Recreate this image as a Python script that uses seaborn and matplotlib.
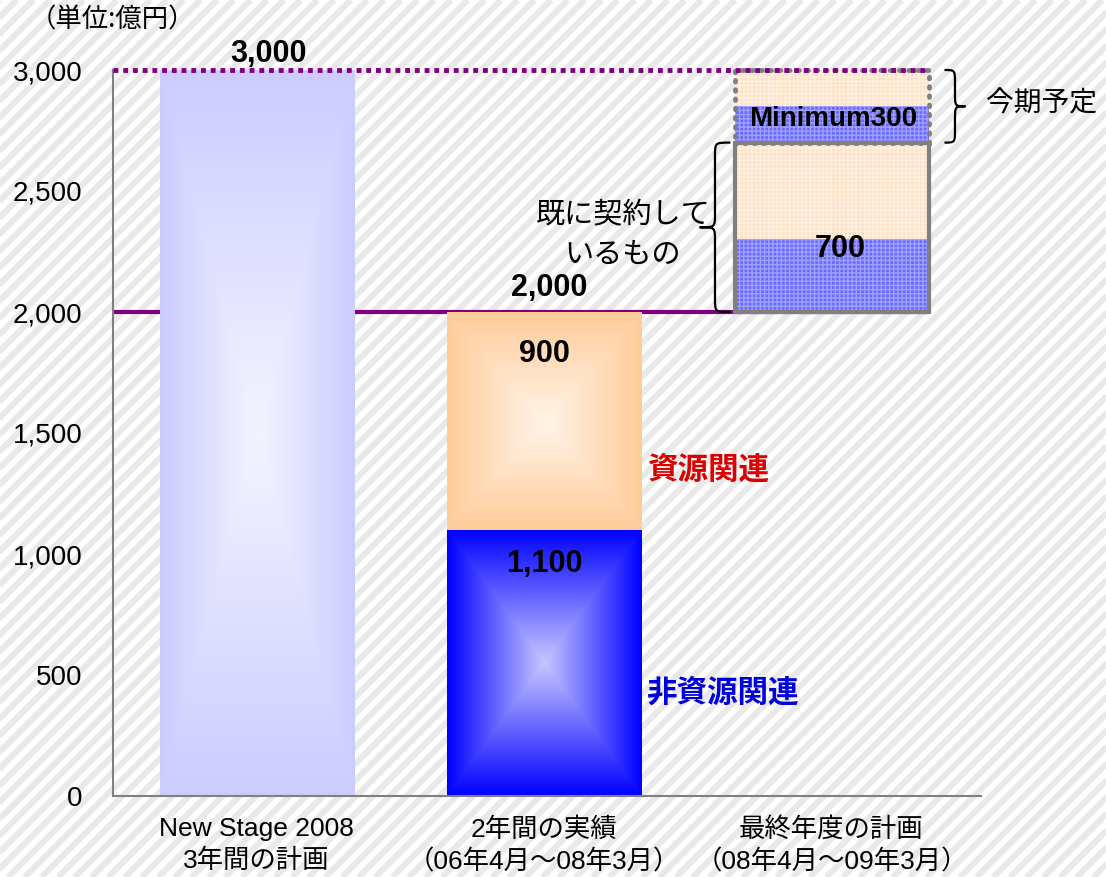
import numpy as np
import matplotlib.pyplot as plt
import seaborn as sns
from matplotlib.collections import LineCollection
from matplotlib.patches import Rectangle, PathPatch
from matplotlib.path import Path
from matplotlib.colors import to_rgb

# data (億円)
categories = ['New Stage 2008\n3年間の計画',
              '2年間の実績\n（06年4月～08年3月）',
              '最終年度の計画\n（08年4月～09年3月）']
plan_total = [3000]
actual_non_resource = [1100]
actual_resource = [900]
actual_total = [2000]
contracted_non_resource = [300]
contracted_resource = [400]
minimum_non_resource = [150]
minimum_resource = [150]
yticks = [0, 500, 1000, 1500, 2000, 2500, 3000]

sns.set_style('white')
plt.rcParams['font.family'] = ['Liberation Sans', 'Noto Sans CJK JP']
for key in ['text.color', 'axes.labelcolor', 'xtick.color', 'ytick.color']:
    plt.rcParams[key] = 'black'
JP = ['Noto Sans CJK JP', 'DejaVu Sans']

LAV, BLUE, PEACH = '#ccccff', '#0000ff', '#ffcc99'
PURPLE, GRAY = '#800080', '#808080'
W = 0.675


def box_gradient(edge, mix=0.78, n=240):
    """PowerPoint-like 'from center' rectangle gradient."""
    u = np.abs(np.linspace(-1, 1, n))
    t = np.maximum(u[None, :], u[:, None])
    e = np.array(to_rgb(edge))
    c = e + (1 - e) * mix
    return c + (e - c) * t[..., None]


def brace(ax, x_base, x_tip, y0, y1, r=55):
    xm = (x_base + x_tip) / 2
    ym = (y0 + y1) / 2
    verts = [(x_base, y0), (xm, y0), (xm, y0), (xm, y0 + r),
             (xm, ym - r), (xm, ym), (xm, ym), (x_tip, ym),
             (xm, ym), (xm, ym), (xm, ym + r),
             (xm, y1 - r), (xm, y1), (xm, y1), (x_base, y1)]
    codes = [Path.MOVETO, Path.CURVE4, Path.CURVE4, Path.CURVE4,
             Path.LINETO, Path.CURVE4, Path.CURVE4, Path.CURVE4,
             Path.CURVE4, Path.CURVE4, Path.CURVE4,
             Path.LINETO, Path.CURVE4, Path.CURVE4, Path.CURVE4]
    ax.add_patch(PathPatch(Path(verts, codes), fill=False, ec='black',
                           lw=1.6, clip_on=False, zorder=6))


fig = plt.figure(figsize=(11.06, 8.77), dpi=100)
fig.patch.set_facecolor('white')

# striped backdrop
offs = np.arange(-877, 1106, 16.7) / 1106
segs = [[(o, 0), (o + 877 / 1106, 1)] for o in offs]
fig.add_artist(LineCollection(segs, colors='#e9e9e9', linewidths=4.4,
                              transform=fig.transFigure, zorder=-5))

ax = fig.add_axes([113 / 1106, 1 - 796 / 877, (981 - 113) / 1106, (796 - 70) / 877])
ax.set_facecolor('none')

# bars
sns.barplot(x=categories[:2], y=plan_total + actual_total, order=categories,
            hue=categories[:2], palette=[LAV, PEACH], legend=False,
            width=W, saturation=1, errorbar=None, linewidth=0, zorder=2, ax=ax)
sns.barplot(x=categories[1:2], y=actual_non_resource, order=categories,
            color=BLUE, width=W, saturation=1, errorbar=None, linewidth=0,
            zorder=2, ax=ax)

grad_segments = [(0, 0, plan_total[0], LAV),
                 (1, 0, actual_non_resource[0], BLUE),
                 (1, actual_non_resource[0], actual_resource[0], PEACH)]
for x, b, h, col in grad_segments:
    ax.imshow(box_gradient(col), extent=(x - W / 2, x + W / 2, b, b + h),
              origin='lower', aspect='auto', interpolation='bilinear', zorder=2.5)

# final-year plan: contracted + minimum
base = actual_total[0]
bottom = base
for h, face, hc in [(contracted_non_resource[0], '#6a6aff', '#a0a0ff'),
                    (contracted_resource[0], '#ffe2c6', '#fff0e2'),
                    (minimum_non_resource[0], '#6a6aff', '#a0a0ff'),
                    (minimum_resource[0], '#ffe2c6', '#fff0e2')]:
    ax.bar(2, h, bottom=bottom, width=W, color=face, edgecolor=hc,
           hatch='++++', linewidth=0, zorder=2)
    bottom += h

contracted = contracted_non_resource[0] + contracted_resource[0]
minimum = minimum_non_resource[0] + minimum_resource[0]
ax.add_patch(Rectangle((2 - W / 2, base), W, contracted, fill=False,
                       ec=GRAY, lw=3, zorder=4))
ax.add_patch(Rectangle((2 - W / 2, base + contracted), W, minimum, fill=False,
                       ec=GRAY, lw=3.5, ls=(0, (0.3, 1.6)), capstyle='round',
                       zorder=4, clip_on=False))

# reference lines
ax.hlines(actual_total[0], -0.5, 2 + W / 2, colors=PURPLE, lw=3, zorder=1.5)
ax.hlines(plan_total[0], -0.5, 2 + W / 2, colors=PURPLE, lw=3.5,
          linestyles=(0, (1, 1)), zorder=6, clip_on=False)

# braces
brace(ax, 2.393, 2.466, base + contracted, plan_total[0])
brace(ax, 1.648, 1.541, base, base + contracted)

# labels
bold = dict(fontsize=22, fontweight='bold', ha='center', va='center', zorder=7)
ax.text(0.04, 3068, f'{plan_total[0]:,}', **bold)
ax.text(1.017, 2100, f'{actual_total[0]:,}', **bold)
ax.text(1.0, 1828, f'{actual_resource[0]:,}', **bold)
ax.text(1.0, 960, f'{actual_non_resource[0]:,}', **bold)
ax.text(2.03, 2262, f'{contracted:,}', **bold)
ax.text(2.005, 2796, f'Minimum{minimum}', fontsize=20, fontweight='bold',
        ha='center', va='center', zorder=7)
ax.text(1.36, 1347, '資源関連', color='#dd0000', fontsize=22, fontweight='bold',
        ha='left', va='center', family=JP, zorder=7)
ax.text(1.354, 426, '非資源関連', color='#0000dd', fontsize=22, fontweight='bold',
        ha='left', va='center', family=JP, zorder=7)
ax.text(2.539, 2860, '今期予定', fontsize=20, ha='left', va='center',
        family=JP, zorder=7)
ax.text(1.274, 2318, '既に契約して\nいるもの', fontsize=21, ha='center',
        va='center', linespacing=1.38, family=JP, zorder=7)
fig.text(30 / 1106, 1 - 20 / 877, '（単位:億円）', fontsize=19, ha='left',
         va='center', family=JP)

# axes
ax.set_xlim(-0.5, 2.52)
ax.set_ylim(0, 3000)
ax.set_yticks(yticks)
ax.set_yticklabels([f'{v:,}' for v in yticks], fontsize=20)
ax.tick_params(axis='y', length=0, pad=22)
ax.tick_params(axis='x', length=0, pad=15, labelsize=19)
for lbl in ax.get_xticklabels():
    lbl.set_linespacing(1.38)
ax.set_xlabel('')
ax.set_ylabel('')
for side in ['top', 'right']:
    ax.spines[side].set_visible(False)
for side in ['left', 'bottom']:
    ax.spines[side].set_color(GRAY)
    ax.spines[side].set_linewidth(1.5)

fig.savefig('out.png', dpi=100)
